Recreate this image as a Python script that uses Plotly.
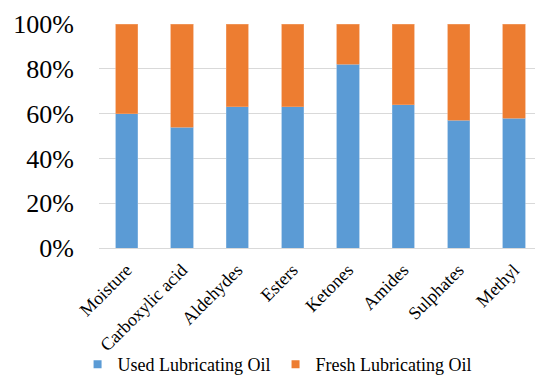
import plotly.graph_objects as go

# Composition share of each compound class (fraction of total)
categories = ["Moisture", "Carboxylic acid", "Aldehydes", "Esters",
              "Ketones", "Amides", "Sulphates", "Methyl"]
used_oil = [0.60, 0.54, 0.63, 0.63, 0.82, 0.64, 0.57, 0.58]
fresh_oil = [round(1 - v, 2) for v in used_oil]

series_names = ["Used Lubricating Oil", "Fresh Lubricating Oil"]
y_ticks = [0, 0.2, 0.4, 0.6, 0.8, 1.0]
y_tick_labels = ["0%", "20%", "40%", "60%", "80%", "100%"]

BLUE = "#5b9bd5"
ORANGE = "#ed7d31"
FONT = "Liberation Serif"

fig = go.Figure()
fig.add_trace(go.Bar(x=categories, y=used_oil, name=series_names[0],
                     showlegend=False, legendgroup="used",
                     marker=dict(color=BLUE, line=dict(color="#8fbbe3", width=0.6))))
fig.add_trace(go.Bar(x=categories, y=fresh_oil, name=series_names[1],
                     showlegend=False, legendgroup="fresh",
                     marker=dict(color=ORANGE, line=dict(color="#f2a16e", width=0.6))))

# Legend entries drawn as small square swatches
for name, color, group in [(series_names[0], BLUE, "used"),
                           (series_names[1], ORANGE, "fresh")]:
    fig.add_trace(go.Scatter(x=[None], y=[None], mode="markers", name=name,
                             legendgroup=group,
                             marker=dict(symbol="square", size=8, color=color)))

fig.update_layout(
    barmode="stack",
    bargap=0.6,
    width=535, height=377,
    margin=dict(l=99, r=0, t=24, b=129, pad=0, autoexpand=False),
    paper_bgcolor="white", plot_bgcolor="white",
    font=dict(family=FONT, color="#000000"),
    showlegend=True,
    legend=dict(orientation="h", xref="container", yref="container",
                x=0.145, xanchor="left", y=0.082, yanchor="top",
                bgcolor="rgba(0,0,0,0)",
                font=dict(size=18, family=FONT), itemwidth=30,
                traceorder="normal"),
)
fig.update_xaxes(
    range=[-0.5, 7.38],
    tickangle=-45,
    tickfont=dict(size=18, family=FONT),
    showgrid=False, showline=False, zeroline=False,
    ticks="", ticklabelstandoff=7, automargin=False,
)
fig.update_yaxes(
    range=[0, 1.0],
    tickvals=y_ticks, ticktext=y_tick_labels,
    tickfont=dict(size=26, family=FONT),
    showgrid=True, gridcolor="#d9d9d9", gridwidth=1.3,
    zeroline=True, zerolinecolor="#d9d9d9", zerolinewidth=1.3,
    showline=False, ticks="", ticklabelstandoff=24, automargin=False,
)

fig.write_html("out.html")
